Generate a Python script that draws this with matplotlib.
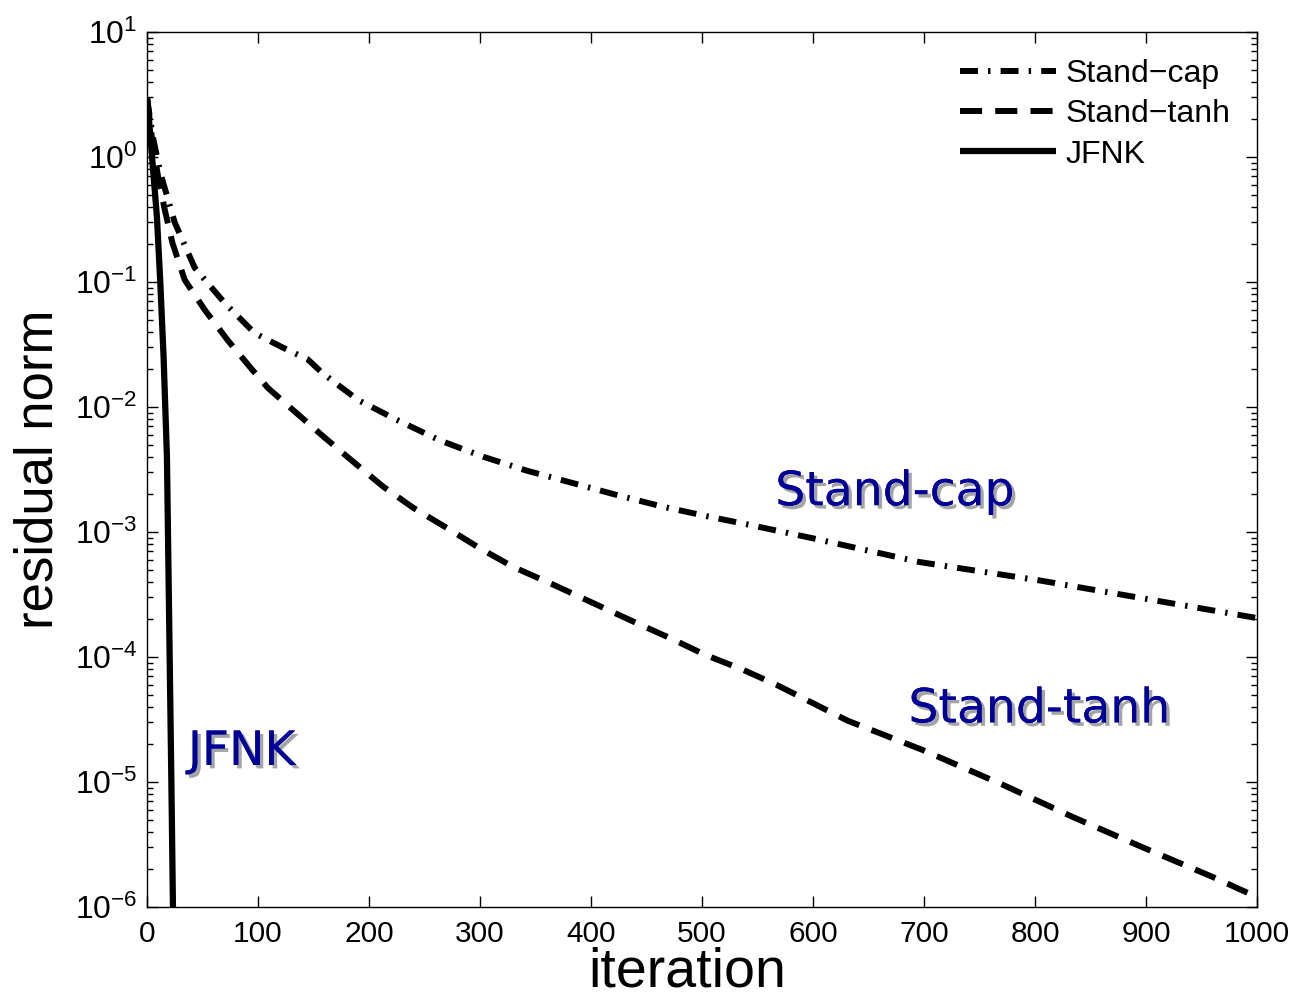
import matplotlib
matplotlib.use("Agg")
import matplotlib.pyplot as plt
import matplotlib.patheffects as pe
from matplotlib.ticker import NullLocator, FixedLocator, LogFormatterSciNotation

plt.rcParams['font.family'] = ['Liberation Sans', 'DejaVu Sans']
plt.rcParams['mathtext.fontset'] = 'custom'
plt.rcParams['mathtext.rm'] = 'Liberation Sans'

# Residual history of each solver
cap_x = [0, 5, 12, 25, 43, 70, 97, 122, 145, 158, 190, 225, 264, 303, 342,
         381, 423, 464, 504, 543, 600, 696, 804, 922, 1000]
cap_y = [3.0, 1.5, 0.75, 0.30, 0.13, 0.068, 0.039, 0.030, 0.024, 0.0187,
         0.0114, 0.0079, 0.0054, 0.0040, 0.0031, 0.0025, 0.00198, 0.0016,
         0.00134, 0.00114, 8.9e-4, 5.75e-4, 4.1e-4, 2.7e-4, 2.05e-4]

tanh_x = [0, 5, 10, 16, 23, 34, 52, 73, 95, 109, 135, 160, 185, 213, 240,
          270, 300, 330, 363, 402, 441, 471, 503, 537, 567, 631, 699, 771,
          834, 897, 960, 1000]
tanh_y = [3.0, 1.3, 0.7, 0.38, 0.205, 0.104, 0.060, 0.034, 0.0198, 0.0142,
          0.0089, 0.0057, 0.0037, 0.0023, 0.00156, 0.00108, 7.4e-4, 5.25e-4,
          3.9e-4, 2.7e-4, 1.87e-4, 1.42e-4, 1.04e-4, 7.9e-5, 6.0e-5, 3.1e-5,
          1.8e-5, 9.5e-6, 5.25e-6, 3.0e-6, 1.74e-6, 1.2e-6]

jfnk_x = [0, 3, 6, 9, 12, 15, 18, 20, 22, 24]
jfnk_y = [3.0, 1.5, 0.7, 0.33, 0.1, 0.025, 4e-3, 2e-4, 1e-5, 4e-7]

series_labels = ['Stand\u2212cap', 'Stand\u2212tanh', 'JFNK']
x_ticks = list(range(0, 1001, 100))
y_decades = list(range(-6, 2))

fig = plt.figure(figsize=(12.97, 10.01), dpi=100)
ax = fig.add_axes([0.1133, 0.0939, 0.8559, 0.8741])

lw = 4.3
ax.plot(cap_x, cap_y, color='black', lw=lw, dash_capstyle='butt',
        linestyle=(0, (3.0, 1.7, 0.4, 1.7)), label=series_labels[0])
ax.plot(tanh_x, tanh_y, color='black', lw=lw, dash_capstyle='butt',
        linestyle=(0, (3.7, 2.2)), label=series_labels[1])
ax.plot(jfnk_x, jfnk_y, color='black', lw=4.5, solid_capstyle='butt',
        label=series_labels[2])

ax.set_yscale('log')
ax.set_xlim(0, 1000)
ax.set_ylim(1e-6, 1e1)
ax.xaxis.set_major_locator(FixedLocator(x_ticks))
ax.xaxis.set_minor_locator(NullLocator())
major_y = [10.0 ** d for d in y_decades]
minor_y = [m * 10.0 ** d for d in y_decades[:-1] for m in range(2, 10)]
ax.yaxis.set_major_locator(FixedLocator(major_y))
ax.yaxis.set_minor_locator(FixedLocator(minor_y))
ax.yaxis.set_major_formatter(LogFormatterSciNotation(base=10))

ax.tick_params(which='both', direction='in', top=True, right=True, width=1.0)
ax.tick_params(which='major', length=8)
ax.tick_params(which='minor', length=4.3)
ax.tick_params(axis='x', pad=9, labelsize=21.5)
ax.tick_params(axis='y', pad=7, labelsize=23)
for s in ax.spines.values():
    s.set_linewidth(1.0)

ax.set_xlabel('iteration', fontsize=40)
ax.xaxis.set_label_coords(0.4865, -0.045)
ax.set_ylabel('residual norm', fontsize=38, labelpad=8)

leg = ax.legend(loc='upper left', bbox_to_anchor=(0.7324, 0.969), frameon=False,
                fontsize=23, handlelength=3.0, handletextpad=0.3,
                labelspacing=0.32, borderpad=0, borderaxespad=0)

shadow = [pe.withSimplePatchShadow(offset=(2.5, -2.5), shadow_rgbFace='0.35', alpha=0.55),
          pe.Normal()]
note_style = dict(color='#000096', fontsize=34, family='DejaVu Sans',
                  ha='left', va='baseline', path_effects=shadow)
ax.text(566, 1.64e-3, 'Stand-cap', **note_style)
ax.text(686, 3.0e-5, 'Stand-tanh', **note_style)
ax.text(37, 1.37e-5, 'JFNK', **note_style)

fig.savefig('out.png', dpi=100)
